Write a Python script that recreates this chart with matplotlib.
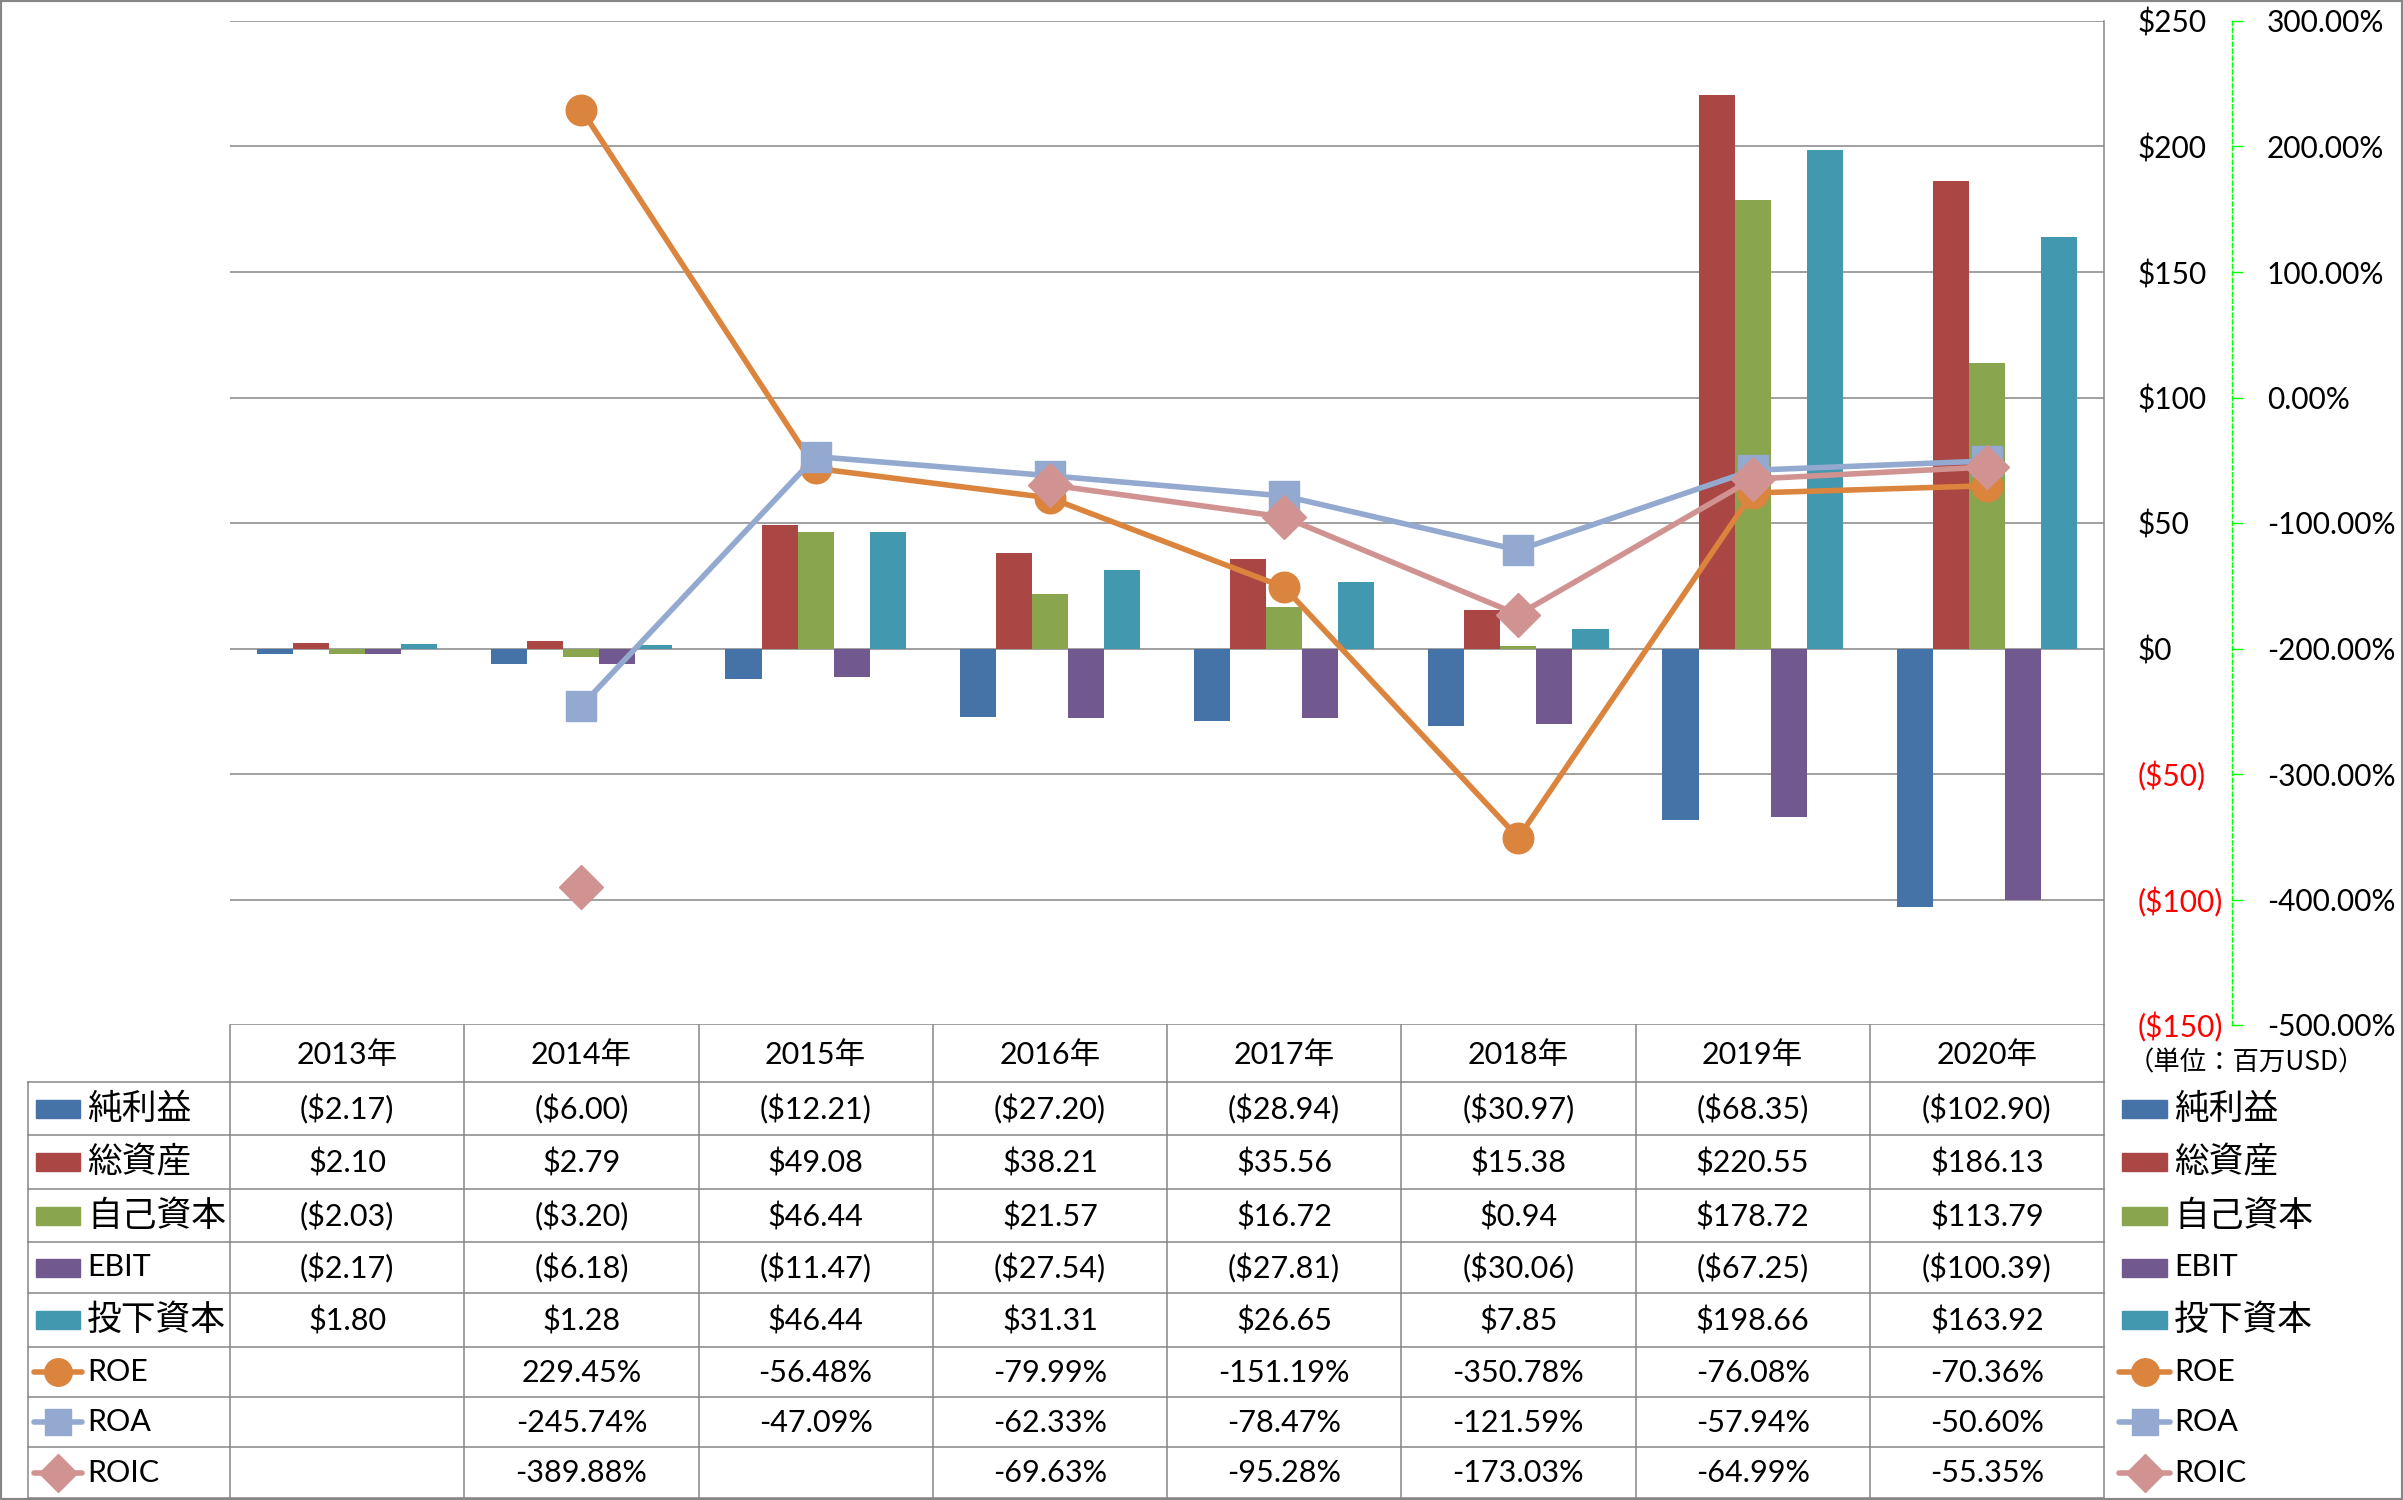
import numpy as np
import matplotlib.pyplot as plt
from matplotlib.lines import Line2D
from matplotlib.patches import Rectangle
from matplotlib import transforms

plt.rcParams['font.family'] = ['Lato', 'Noto Sans CJK JP']

years = ['2013年', '2014年', '2015年', '2016年', '2017年', '2018年', '2019年', '2020年']

# bar series (million USD)
bar_names = ['純利益', '総資産', '自己資本', 'EBIT', '投下資本']
net_income = [-2.17, -6.00, -12.21, -27.20, -28.94, -30.97, -68.35, -102.90]
total_assets = [2.10, 2.79, 49.08, 38.21, 35.56, 15.38, 220.55, 186.13]
equity = [-2.03, -3.20, 46.44, 21.57, 16.72, 0.94, 178.72, 113.79]
ebit = [-2.17, -6.18, -11.47, -27.54, -27.81, -30.06, -67.25, -100.39]
invested = [1.80, 1.28, 46.44, 31.31, 26.65, 7.85, 198.66, 163.92]
bar_vals = [net_income, total_assets, equity, ebit, invested]
bar_colors = ['#4572A7', '#AA4643', '#89A54E', '#71588F', '#4198AF']

# ratio series (%)
nan = np.nan
line_names = ['ROE', 'ROA', 'ROIC']
roe = [nan, 229.45, -56.48, -79.99, -151.19, -350.78, -76.08, -70.36]
roa = [nan, -245.74, -47.09, -62.33, -78.47, -121.59, -57.94, -50.60]
roic = [nan, -389.88, nan, -69.63, -95.28, -173.03, -64.99, -55.35]
line_vals = [roe, roa, roic]
line_colors = ['#DB843D', '#93A9CF', '#D19392']
line_markers = ['o', 's', 'D']
line_ms = [22, 21, 22]

W, H = 2403, 1500
fig = plt.figure(figsize=(W / 100, H / 100), dpi=100)


def fx(px):
    return px / W


def fy(py):
    return 1 - py / H


grid_c = '#868686'
ax = fig.add_axes([fx(230), fy(1025), fx(2104) - fx(230), fy(21) - fy(1025)])
ax2 = ax.twinx()

x = np.arange(len(years))
bw = 0.154
for i, (vals, c) in enumerate(zip(bar_vals, bar_colors)):
    ax.bar(x + (i - 2) * bw, vals, bw, color=c, zorder=2)

ax.set_xlim(-0.5, 7.5)
ax.set_ylim(-150, 250)
yt = np.arange(-150, 251, 50)
ax.set_yticks(yt)
ax.set_yticklabels([f'${v}' if v >= 0 else f'(${-v})' for v in yt])
ax.yaxis.tick_right()
ax.tick_params(axis='y', length=0, pad=24.5, labelsize=21.5)
ax.set_xticks([])
for lab, v in zip(ax.get_yticklabels(), yt):
    lab.set_color('red' if v < 0 else 'black')
ax.grid(axis='y', color=grid_c, lw=1.1, zorder=0)
ax.set_axisbelow(True)
for s in ['left', 'top', 'bottom']:
    ax.spines[s].set_visible(False)
ax.spines['right'].set_color(grid_c)
ax.spines['right'].set_linewidth(1.1)

for vals, c, m, ms in zip(line_vals, line_colors, line_markers, line_ms):
    ax2.plot(x, vals, color=c, lw=4.0, marker=m, ms=ms, mec=c,
             solid_joinstyle='round', zorder=3)
ax2.set_ylim(-500, 300)
pt = np.arange(-500, 301, 100)
ax2.set_yticks(pt)
ax2.set_yticklabels([f'{v:.2f}%' for v in pt])
for lab, v in zip(ax2.get_yticklabels(), pt):
    lab.set_color('red' if v < 0 else 'black')
for s in ['left', 'top', 'bottom']:
    ax2.spines[s].set_visible(False)
ax2.spines['right'].set_position(('outward', 92.2))
ax2.spines['right'].set_linestyle((0, (3, 2)))
ax2.spines['right'].set_color('#00FF00')
ax2.spines['right'].set_linewidth(1.0)
ax2.tick_params(axis='y', length=8, width=1, color='#00FF00', pad=17, labelsize=21.5)

# data table under the chart
trans = transforms.blended_transform_factory(ax.transData, fig.transFigure)
head_top, head_bot = 1025, 1082
row_edges = [1082, 1135, 1189, 1242, 1293, 1347, 1397, 1447, 1498]
row_c = [(a + b) / 2 for a, b in zip(row_edges[:-1], row_edges[1:])]

for y in row_edges:
    fig.add_artist(Line2D([fx(28), fx(2104)], [fy(y), fy(y)], color=grid_c, lw=1.1))
fig.add_artist(Line2D([fx(28), fx(28)], [fy(row_edges[0]), fy(row_edges[-1])], color=grid_c, lw=1.1))
for b in np.arange(-0.5, len(years), 1):
    fig.add_artist(Line2D([b, b], [fy(head_top), fy(row_edges[-1])], color=grid_c, lw=1.1,
                          transform=trans))

for xi, yr in zip(x, years):
    fig.text(xi, fy((head_top + head_bot) / 2 + 1), yr, transform=trans,
             ha='center', va='center', fontsize=22)


def money(v):
    return f'${v:.2f}' if v >= 0 else f'(${-v:.2f})'


for r, vals in enumerate(bar_vals):
    for xi, v in zip(x, vals):
        fig.text(xi, fy(row_c[r] + 1), money(v), transform=trans,
                 ha='center', va='center', fontsize=22)
for r, vals in enumerate(line_vals):
    for xi, v in zip(x, vals):
        if np.isnan(v):
            continue
        fig.text(xi, fy(row_c[5 + r] + 1), f'{v:.2f}%', transform=trans,
                 ha='center', va='center', fontsize=22)


def legend_key(x0, x1, xt, yc, kind, color, label, marker=None, ms=None):
    if kind == 'bar':
        fig.add_artist(Rectangle((fx(x0), fy(yc + 9)), (x1 - x0) / W, 18 / H,
                                 transform=fig.transFigure, color=color))
    else:
        fig.add_artist(Line2D([fx(x0), fx(x1)], [fy(yc), fy(yc)], color=color, lw=4.0,
                              solid_capstyle='round'))
        fig.add_artist(Line2D([fx((x0 + x1) / 2)], [fy(yc)], color=color, marker=marker,
                              ms=ms, mec=color))
    size = 22 if label.isascii() else 25
    fig.text(fx(xt), fy(yc), label, ha='left', va='center', fontsize=size)


for r, (name, c) in enumerate(zip(bar_names, bar_colors)):
    legend_key(36, 80, 87, row_c[r], 'bar', c, name)
    legend_key(2122, 2167, 2174, row_c[r], 'bar', c, name)
for r, (name, c, m, ms) in enumerate(zip(line_names, line_colors, line_markers, line_ms)):
    legend_key(34, 82, 87, row_c[5 + r], 'line', c, name, m, ms * 0.9)
    legend_key(2119, 2170, 2174, row_c[5 + r], 'line', c, name, m, ms * 0.9)

fig.text(fx(2128), fy(1063), '（単位：百万USD）', ha='left', va='center', fontsize=19,
         family='Noto Sans CJK JP')

fig.add_artist(Rectangle((0, 0), 1, 1, transform=fig.transFigure, fill=False,
                         ec=grid_c, lw=3))

fig.savefig('out.png', dpi=100)
